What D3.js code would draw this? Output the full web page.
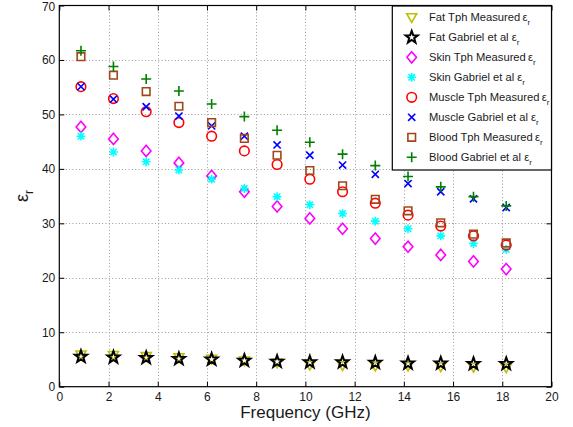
<!DOCTYPE html>
<html><head><meta charset="utf-8">
<script src="https://cdn.jsdelivr.net/npm/d3@7"></script>
<style>body{margin:0;background:#fff}svg{display:block}text{font-family:"Liberation Sans",Arial,Helvetica,sans-serif}</style>
</head><body><svg id="c" width="573" height="427"></svg>
<script>
const freq = [0.88, 2.2, 3.53, 4.86, 6.19, 7.52, 8.85, 10.18, 11.51, 12.84, 14.17, 15.5, 16.83, 18.16];
const fatTph = [5.9, 5.8, 5.6, 5.4, 5.1, 4.8, 4.4, 4.0, 3.9, 3.8, 3.8, 3.7, 3.6, 3.5];
const fatGab = [5.5, 5.4, 5.3, 5.1, 5.0, 4.8, 4.6, 4.5, 4.5, 4.4, 4.3, 4.3, 4.2, 4.2];
const skinTph = [47.7, 45.5, 43.3, 41.1, 38.7, 35.8, 33.1, 30.9, 29.0, 27.2, 25.7, 24.2, 23.0, 21.6];
const skinGab = [46.0, 43.1, 41.3, 39.8, 38.1, 36.4, 34.9, 33.4, 31.8, 30.4, 29.0, 27.7, 26.3, 25.2];
const muscleTph = [55.1, 52.9, 50.5, 48.5, 46.0, 43.3, 40.8, 38.1, 35.8, 33.7, 31.5, 29.5, 27.7, 26.0];
const muscleGab = [55.1, 52.8, 51.4, 49.7, 47.9, 46.0, 44.4, 42.5, 40.7, 39.0, 37.3, 35.8, 34.5, 32.9];
const bloodTph = [60.6, 57.2, 54.2, 51.5, 48.5, 45.6, 42.5, 39.7, 36.9, 34.4, 32.3, 30.1, 28.0, 26.4];
const bloodGab = [61.7, 58.8, 56.5, 54.3, 51.9, 49.6, 47.1, 44.9, 42.7, 40.6, 38.6, 36.7, 34.9, 33.2];
const xTicks = [0, 2, 4, 6, 8, 10, 12, 14, 16, 18, 20];
const yTicks = [0, 10, 20, 30, 40, 50, 60, 70];
const seriesNames = ["Fat Tph Measured", "Fat Gabriel et al", "Skin Tph Measured", "Skin Gabriel et al",
  "Muscle Tph Measured", "Muscle Gabriel et al", "Blood Tph Measured", "Blood Gabriel et al"];
const seriesValues = [fatTph, fatGab, skinTph, skinGab, muscleTph, muscleGab, bloodTph, bloodGab];
const seriesMarkers = ["tri", "star", "diamond", "asterisk", "circle", "x", "square", "plus"];
const seriesColors = ["#bfbf00", "#000000", "#ff00ff", "#00ffff", "#ff0000", "#0000ff", "#a0461a", "#008000"];

const svg = d3.select("#c");
const L = 59.3, R = 551.5, T = 5.5, B = 386.7;
const x = d3.scaleLinear().domain([0, 20]).range([L, R]);
const y = d3.scaleLinear().domain([0, 70]).range([B, T]);

function markerPath(type) {
  const p = d3.path();
  if (type === "tri") { p.moveTo(-5, -3.6); p.lineTo(5, -3.6); p.lineTo(0, 5); p.closePath(); }
  else if (type === "star") {
    const Ro = 6.4, Ri = 2.6;
    for (let i = 0; i < 10; i++) {
      const r = i % 2 ? Ri : Ro, a = -Math.PI / 2 + i * Math.PI / 5;
      if (i === 0) p.moveTo(r * Math.cos(a), r * Math.sin(a)); else p.lineTo(r * Math.cos(a), r * Math.sin(a));
    }
    p.closePath();
  }
  else if (type === "diamond") { p.moveTo(0, -5.6); p.lineTo(4.8, 0); p.lineTo(0, 5.6); p.lineTo(-4.8, 0); p.closePath(); }
  else if (type === "asterisk") {
    const a = 4.4, d = 3.2;
    p.moveTo(-a, 0); p.lineTo(a, 0); p.moveTo(0, -a); p.lineTo(0, a);
    p.moveTo(-d, -d); p.lineTo(d, d); p.moveTo(-d, d); p.lineTo(d, -d);
  }
  else if (type === "circle") { p.arc(0, 0, 4.8, 0, 2 * Math.PI); p.closePath(); }
  else if (type === "x") { const a = 3.6; p.moveTo(-a, -a); p.lineTo(a, a); p.moveTo(-a, a); p.lineTo(a, -a); }
  else if (type === "square") { const a = 3.8; p.rect(-a, -a, 2 * a, 2 * a); }
  else if (type === "plus") { const a = 5; p.moveTo(-a, 0); p.lineTo(a, 0); p.moveTo(0, -a); p.lineTo(0, a); }
  return p.toString();
}
const strokeW = t => t === "star" ? 2 : 1.6;

// grid
const grid = svg.append("g").attr("stroke", "#9a9a9a").attr("stroke-width", 1).attr("stroke-dasharray", "1,2.3");
grid.selectAll("line.gx").data(xTicks.slice(1, -1)).join("line")
  .attr("x1", d => Math.round(x(d)) + 0.5).attr("x2", d => Math.round(x(d)) + 0.5).attr("y1", T).attr("y2", B);
grid.selectAll("line.gy").data(yTicks.slice(1, -1)).join("line")
  .attr("y1", d => Math.round(y(d)) + 0.5).attr("y2", d => Math.round(y(d)) + 0.5).attr("x1", L).attr("x2", R);

// axes
const tl = 5;
const ax = svg.append("g").attr("transform", `translate(0,${B})`).call(
  d3.axisBottom(x).tickValues(xTicks).tickSizeInner(-tl).tickSizeOuter(0).tickPadding(6));
const ay = svg.append("g").attr("transform", `translate(${L},0)`).call(
  d3.axisLeft(y).tickValues(yTicks).tickSizeInner(-tl).tickSizeOuter(0).tickPadding(4));
const axT = svg.append("g").attr("transform", `translate(0,${T})`).call(
  d3.axisTop(x).tickValues(xTicks).tickSizeInner(-tl).tickSizeOuter(0).tickFormat(""));
const ayR = svg.append("g").attr("transform", `translate(${R},0)`).call(
  d3.axisRight(y).tickValues(yTicks).tickSizeInner(-tl).tickSizeOuter(0).tickFormat(""));
[ax, ay, axT, ayR].forEach(g => {
  g.select(".domain").remove();
  g.selectAll("line").attr("stroke", "#000");
  g.selectAll("text").attr("fill", "#1a1a1a").style("font-size", "12px");
});
ay.selectAll("text").filter(d => d === 70).attr("dy", "0.4em");
svg.append("rect").attr("x", L).attr("y", T).attr("width", R - L).attr("height", B - T)
  .attr("fill", "none").attr("stroke", "#000").attr("stroke-width", 1.2);

// axis labels
svg.append("text").attr("x", (L + R) / 2).attr("y", 418).attr("text-anchor", "middle")
  .style("font-size", "17px").attr("fill", "#1a1a1a").text("Frequency (GHz)");
const yl = svg.append("text").attr("transform", "translate(28,196) rotate(-90)").attr("text-anchor", "middle")
  .style("font-size", "18px").attr("fill", "#1a1a1a");
yl.append("tspan").text("ε");
yl.append("tspan").attr("dy", 5).style("font-size", "12px").text("r");

// data
seriesValues.forEach((vals, i) => {
  svg.append("g").selectAll("path").data(vals).join("path")
    .attr("transform", (d, j) => `translate(${x(freq[j])},${y(d)})`)
    .attr("d", markerPath(seriesMarkers[i]))
    .attr("fill", "none").attr("stroke", seriesColors[i]).attr("stroke-width", strokeW(seriesMarkers[i]));
});

// legend
const lg = svg.append("g");
lg.append("rect").attr("x", 392.3).attr("y", 6).attr("width", R - 392.3).attr("height", 164)
  .attr("fill", "#fff").attr("stroke", "#000").attr("stroke-width", 1.2);
seriesNames.forEach((name, i) => {
  const cy = 17.3 + i * 20;
  lg.append("path").attr("transform", `translate(411.7,${cy})`).attr("d", markerPath(seriesMarkers[i]))
    .attr("fill", "none").attr("stroke", seriesColors[i]).attr("stroke-width", strokeW(seriesMarkers[i]));
  const t = lg.append("text").attr("x", 429).attr("y", cy + 3.5).style("font-size", "11.2px").attr("fill", "#1a1a1a");
  t.append("tspan").text(name + (name.endsWith("Measured") ? "\u2009ε" : " ε"));
  t.append("tspan").attr("dy", 4).style("font-size", "8px").text("r");
});
</script></body></html>
